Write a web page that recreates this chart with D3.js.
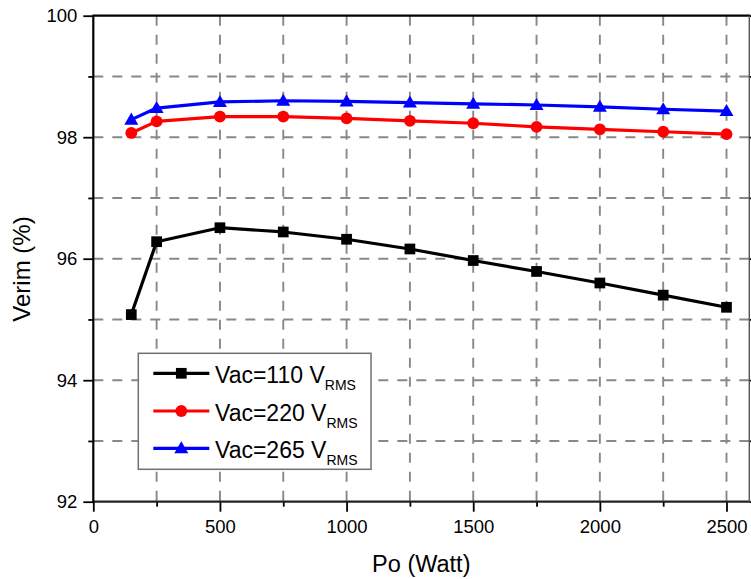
<!DOCTYPE html>
<html><head><meta charset="utf-8">
<script src="https://cdn.jsdelivr.net/npm/d3@7"></script>
<style>body{margin:0;background:#fff}svg{display:block}text{font-family:Arial,"Liberation Sans",sans-serif}</style>
</head><body>
<svg id="c" width="751" height="579"></svg>
<script>
const power = [150, 250, 500, 750, 1000, 1250, 1500, 1750, 2000, 2250, 2500];
const vac110 = [95.08, 96.28, 96.51, 96.44, 96.32, 96.16, 95.97, 95.79, 95.60, 95.40, 95.20];
const vac220 = [98.07, 98.26, 98.34, 98.34, 98.31, 98.27, 98.23, 98.17, 98.13, 98.09, 98.05];
const vac265 = [98.29, 98.48, 98.58, 98.60, 98.59, 98.57, 98.55, 98.53, 98.50, 98.46, 98.43];
const xTicks = [0, 500, 1000, 1500, 2000, 2500];
const yTicks = [92, 94, 96, 98, 100];
const seriesNames = ["Vac=110 V", "Vac=220 V", "Vac=265 V"];

const series = [
  {name: seriesNames[0], vals: vac110, color: "#000000", sym: d3.symbolSquare, size: 115},
  {name: seriesNames[1], vals: vac220, color: "#ff0000", sym: d3.symbolCircle, size: 110},
  {name: seriesNames[2], vals: vac265, color: "#0000ff", sym: d3.symbolTriangle, size: 85}
];

const svg = d3.select("#c");
const L = 93.3, R = 749.3, T = 15.7, B = 501.7;
const x = d3.scaleLinear().domain([0, 2590]).range([L, R]);
const y = d3.scaleLinear().domain([92, 100]).range([B, T]);

const minorX = d3.range(250, 2600, 500);
const minorY = [93, 95, 97, 99];
const gridX = d3.range(250, 2600, 250);
const gridY = d3.range(93, 100, 1);

// grid
const g = svg.append("g");
g.selectAll(".gx").data(gridX).join("line")
  .attr("x1", d => x(d)).attr("x2", d => x(d)).attr("y1", T).attr("y2", B)
  .attr("stroke", "#888").attr("stroke-width", 1.9).attr("stroke-dasharray", "10,9");
g.selectAll(".gy").data(gridY).join("line")
  .attr("y1", d => y(d)).attr("y2", d => y(d)).attr("x1", L).attr("x2", R)
  .attr("stroke", "#888").attr("stroke-width", 1.9).attr("stroke-dasharray", "10,9");

// axes
const xAx = svg.append("g").attr("transform", `translate(0,${B})`)
  .call(d3.axisBottom(x).tickValues(xTicks).tickSize(10).tickSizeOuter(0).tickPadding(6).tickFormat(d3.format("d")));
const xMin = svg.append("g").attr("transform", `translate(0,${B})`)
  .call(d3.axisBottom(x).tickValues(minorX).tickSize(5).tickSizeOuter(0).tickFormat(""));
const yAx = svg.append("g").attr("transform", `translate(${L},0)`)
  .call(d3.axisLeft(y).tickValues(yTicks).tickSize(10).tickSizeOuter(0).tickPadding(6).tickFormat(d3.format("d")));
const yMin = svg.append("g").attr("transform", `translate(${L},0)`)
  .call(d3.axisLeft(y).tickValues(minorY).tickSize(5).tickSizeOuter(0).tickFormat(""));
const yR = svg.append("g").attr("transform", `translate(${R},0)`)
  .call(d3.axisRight(y).tickValues(d3.range(92, 101, 1)).tickSize(4).tickSizeOuter(0).tickFormat(""));
[xAx, xMin, yAx, yMin, yR].forEach(a => {
  a.select(".domain").remove();
  a.selectAll("line").attr("stroke", "#000").attr("stroke-width", 1.8);
  a.selectAll("text").attr("fill", "#000").style("font-size", "18.5px");
});
xAx.selectAll("text").attr("dy", "0.85em");
// frame
svg.append("line").attr("x1", L).attr("x2", R + 1).attr("y1", B).attr("y2", B).attr("stroke", "#222").attr("stroke-width", 2.2);
svg.append("line").attr("x1", L).attr("x2", L).attr("y1", T - 1).attr("y2", B + 1).attr("stroke", "#000").attr("stroke-width", 2.2);
svg.append("line").attr("x1", L).attr("x2", R + 1).attr("y1", T).attr("y2", T).attr("stroke", "#000").attr("stroke-width", 2.2);
svg.append("line").attr("x1", R).attr("x2", R).attr("y1", T).attr("y2", B).attr("stroke", "#555").attr("stroke-width", 1.4);

// series
const line = d3.line().x((d, i) => x(power[i])).y(d => y(d));
series.forEach(s => {
  svg.append("path").datum(s.vals).attr("d", line)
    .attr("fill", "none").attr("stroke", s.color).attr("stroke-width", 3.2).attr("stroke-linejoin", "round");
  svg.selectAll(null).data(s.vals).join("path")
    .attr("transform", (d, i) => `translate(${x(power[i])},${y(d) + (s.sym === d3.symbolTriangle ? 1 : 0)})`)
    .attr("d", d3.symbol().type(s.sym).size(s.size))
    .attr("fill", s.color);
});

// legend
const lg = svg.append("g");
lg.append("rect").attr("x", 138.3).attr("y", 353.3).attr("width", 232.7).attr("height", 116)
  .attr("fill", "#fff").attr("stroke", "#707070").attr("stroke-width", 1.5);
const rowsY = [373.3, 411, 448.3];
series.forEach((s, i) => {
  const ry = rowsY[i];
  lg.append("line").attr("x1", 153.3).attr("x2", 209.3).attr("y1", ry).attr("y2", ry)
    .attr("stroke", s.color).attr("stroke-width", 3.2);
  lg.append("path").attr("transform", `translate(181.3,${ry + (s.sym === d3.symbolTriangle ? 1 : 0)})`)
    .attr("d", d3.symbol().type(s.sym).size(s.size)).attr("fill", s.color);
  const t = lg.append("text").attr("x", 215).attr("y", ry + 9.5).style("font-size", "23px").attr("fill", "#000");
  t.append("tspan").text(s.name);
  t.append("tspan").attr("dy", 7.5).style("font-size", "14px").text("RMS");
});

// titles
svg.append("text").attr("x", 421.3).attr("y", 571.5).attr("text-anchor", "middle")
  .style("font-size", "23.5px").attr("fill", "#000").text("Po (Watt)");
svg.append("text").attr("transform", "translate(29.5,269) rotate(-90)").attr("text-anchor", "middle")
  .style("font-size", "24px").attr("fill", "#000").text("Verim (%)");
</script>
</body></html>
